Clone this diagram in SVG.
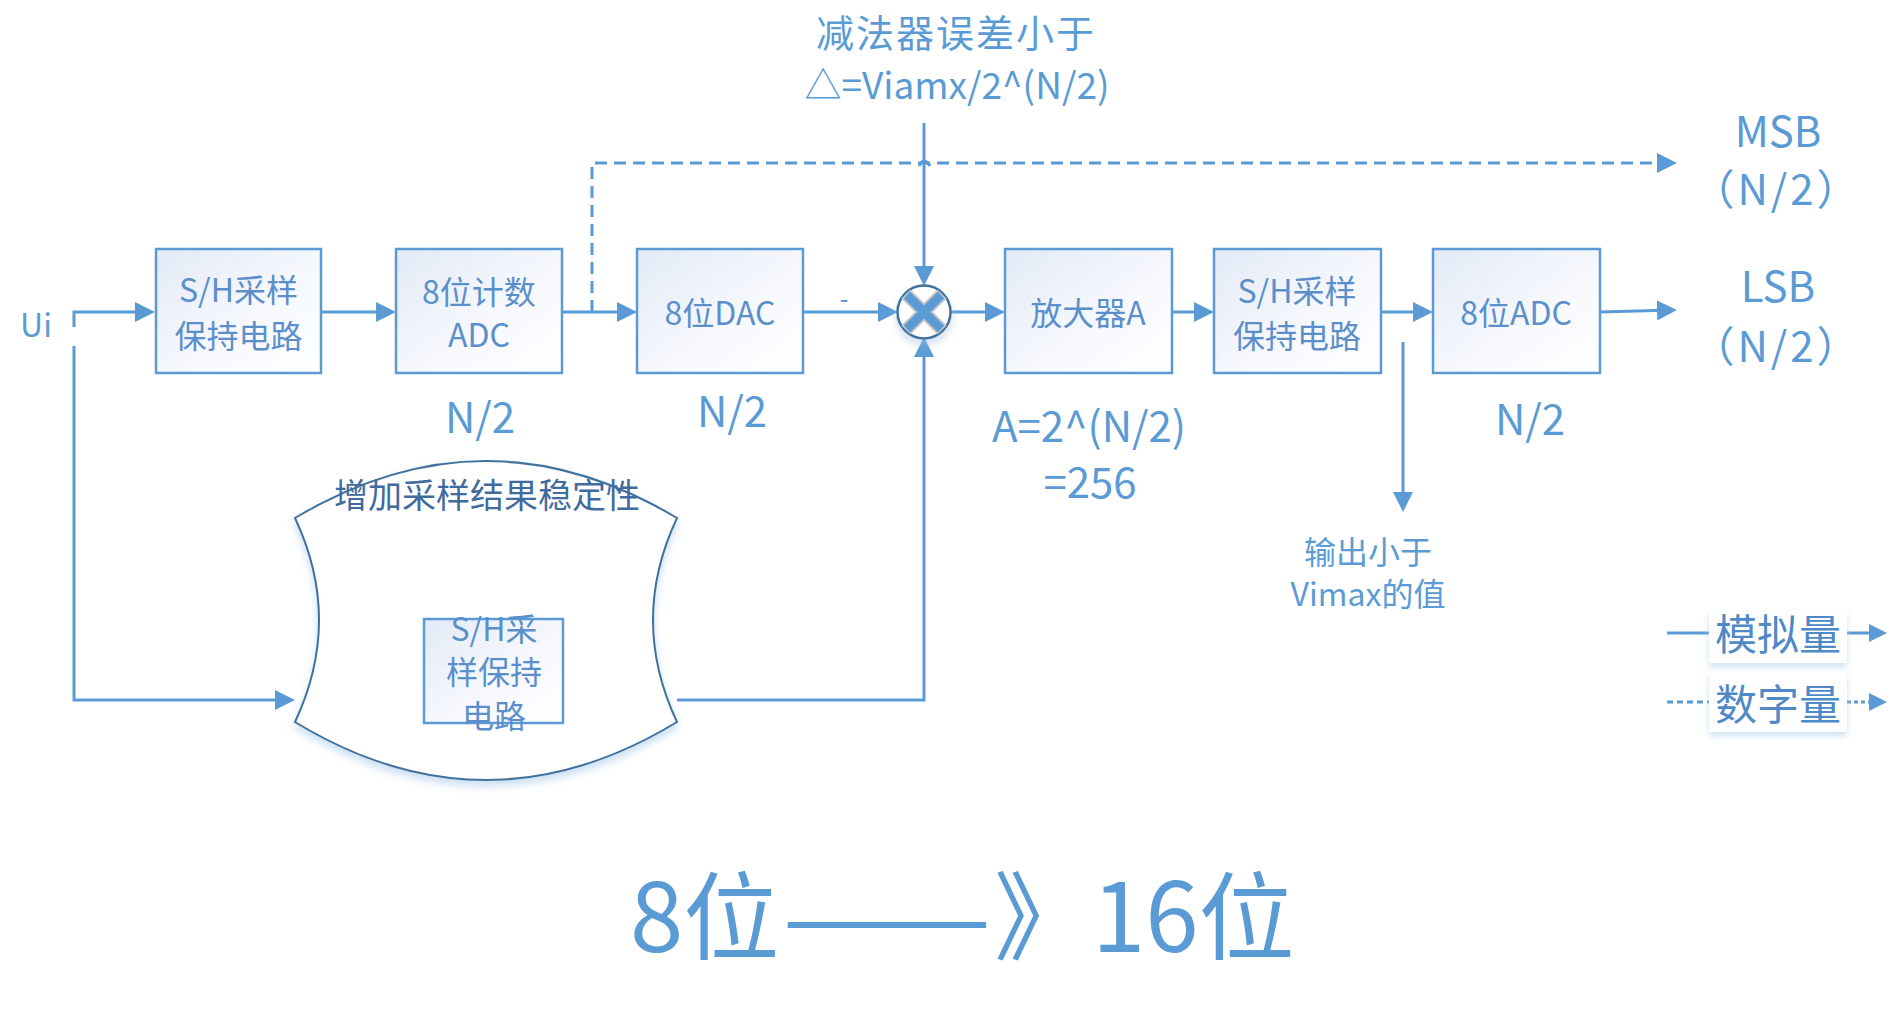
<svg xmlns="http://www.w3.org/2000/svg" width="1898" height="1032" viewBox="0 0 1898 1032">
<style>
text{font-family:"Noto Sans CJK SC","Noto Sans",sans-serif;}
.box{fill:url(#bg);stroke:#5b9bd5;stroke-width:2.5;}
.bt{font-size:32px;fill:#5a8fcb;text-anchor:middle;}
.lb{fill:#5b9bd5;text-anchor:middle;}
.ln{fill:none;stroke:#5b9bd5;stroke-width:3;}
.ar{marker-end:url(#ah);}
.dash{stroke-dasharray:12 7;}
.leg{font-size:42px;fill:#5089c8;text-anchor:middle;}
</style>
<defs>
<linearGradient id="bg" x1="0" y1="0" x2="1" y2="1">
<stop offset="0" stop-color="#e3eaf6"/>
<stop offset="0.6" stop-color="#f7f9fd"/>
<stop offset="1" stop-color="#ffffff"/>
</linearGradient>
<marker id="ah" markerUnits="userSpaceOnUse" markerWidth="20" markerHeight="20" refX="16" refY="10" orient="auto">
<path d="M0,0 L20,10 L0,20 z" fill="#5b9bd5"/>
</marker>
<marker id="ahs" markerUnits="userSpaceOnUse" markerWidth="18" markerHeight="18" refX="14" refY="9" orient="auto">
<path d="M0,0 L18,9 L0,18 z" fill="#5b9bd5"/>
</marker>
<filter id="sh" x="-20%" y="-20%" width="140%" height="150%">
<feDropShadow dx="0" dy="5" stdDeviation="4" flood-color="#9dc3e6" flood-opacity="0.55"/>
</filter>
<filter id="sh2" x="-20%" y="-20%" width="140%" height="160%">
<feDropShadow dx="0" dy="4" stdDeviation="3" flood-color="#bdd7ee" flood-opacity="0.7"/>
</filter>
</defs>
<rect width="1898" height="1032" fill="#ffffff"/>

<g id="connectors">
<path class="ln ar" d="M74,327 V312 H151"/>
<path class="ln" d="M74,346 V700 H275"/>
<path class="ln ar" d="M275,700 H291"/>
<path class="ln ar" d="M321,312 H392"/>
<path class="ln ar" d="M562,312 H633"/>
<path class="ln ar" d="M803,312 H894"/>
<path class="ln ar" d="M950,312 H1001"/>
<path class="ln ar" d="M1172,312 H1210"/>
<path class="ln ar" d="M1381,312 H1429"/>
<path class="ln ar" d="M1600,312 L1673,310"/>
<path class="ln ar" d="M924,123 V282"/>
<path class="ln ar" d="M677,700 H924 V341"/>
<path class="ln ar" d="M1403,342 V508"/>
<path class="ln dash ar" d="M592,312 V163 H1673"/>
<path class="ln" d="M919,166 Q924,156 930,166" stroke-width="2"/>
</g>

<g id="node-sh1">
<rect class="box" x="156" y="249" width="165" height="124"/>
<text class="bt" x="238.5" y="302">S/H采样</text>
<text class="bt" x="238.5" y="348">保持电路</text>
</g>
<g id="node-adc-count">
<rect class="box" x="396" y="249" width="166" height="124"/>
<text class="bt" x="479" y="304">8位计数</text>
<text class="bt" x="479" y="347">ADC</text>
</g>
<g id="node-dac">
<rect class="box" x="637" y="249" width="166" height="124"/>
<text class="bt" x="720" y="325">8位DAC</text>
</g>
<g id="node-sub">
<circle cx="924" cy="312" r="26.5" fill="#ffffff" stroke="#41719c" stroke-width="2.5" filter="url(#sh)"/>
<path d="M906,294 L942,330 M942,294 L906,330" stroke="#c4c4c4" stroke-width="13" stroke-linecap="butt"/>
<path d="M907,295 L941,329 M941,295 L907,329" stroke="#5b9bd5" stroke-width="9" stroke-linecap="butt"/>
</g>
<g id="node-amp">
<rect class="box" x="1005" y="249" width="167" height="124"/>
<text class="bt" x="1088" y="325">放大器A</text>
</g>
<g id="node-sh2">
<rect class="box" x="1214" y="249" width="167" height="124"/>
<text class="bt" x="1297" y="303">S/H采样</text>
<text class="bt" x="1297" y="348">保持电路</text>
</g>
<g id="node-adc8">
<rect class="box" x="1433" y="249" width="167" height="124"/>
<text class="bt" x="1516" y="325">8位ADC</text>
</g>

<g id="node-stability">
<path d="M295,518 Q486,404 677,518 Q629,620 677,722 Q486,838 295,722 Q343,620 295,518 Z" fill="#ffffff" stroke="#41719c" stroke-width="2" filter="url(#sh)"/>
<rect class="box" x="424" y="619" width="139" height="104" stroke-width="2"/>
<text class="bt" x="494" y="641">S/H采</text>
<text class="bt" x="494" y="684">样保持</text>
<text class="bt" x="494" y="728">电路</text>
<text x="487" y="508" font-size="34" fill="#3f6b9e" text-anchor="middle">增加采样结果稳定性</text>
</g>

<g id="labels">
<text class="lb" x="36" y="337" font-size="32">Ui</text>
<text class="lb" x="956" y="47" font-size="38" letter-spacing="2">减法器误差小于</text>
<text class="lb" x="957" y="99" font-size="37">△=Viamx/2^(N/2)</text>
<text class="lb" x="844" y="308" font-size="26">-</text>
<text class="lb" x="480" y="433" font-size="42">N/2</text>
<text class="lb" x="732" y="427" font-size="42">N/2</text>
<text class="lb" x="1089" y="442" font-size="42">A=2^(N/2)</text>
<text class="lb" x="1090" y="498" font-size="42">=256</text>
<text class="lb" x="1530" y="435" font-size="42">N/2</text>
<text class="lb" x="1778" y="147" font-size="42">MSB</text>
<text class="lb" x="1777" y="205" font-size="42" letter-spacing="3">（N/2）</text>
<text class="lb" x="1778" y="302" font-size="42">LSB</text>
<text class="lb" x="1777" y="362" font-size="42" letter-spacing="3">（N/2）</text>
<text class="lb" x="1368" y="564" font-size="32">输出小于</text>
<text class="lb" x="1368" y="606" font-size="32">Vimax的值</text>
</g>

<g id="legend">
<path class="ln" d="M1667,633 H1709"/>
<path class="ln" d="M1847,633 H1883" marker-end="url(#ahs)"/>
<rect x="1709" y="610" width="138" height="53" fill="#ffffff" filter="url(#sh2)"/>
<text class="leg" x="1778" y="650">模拟量</text>
<path class="ln" d="M1667,702 H1709" stroke-dasharray="6 4"/>
<path class="ln" d="M1847,702 H1883" stroke-dasharray="4 3" marker-end="url(#ahs)"/>
<rect x="1709" y="672" width="138" height="60" fill="#ffffff" filter="url(#sh2)"/>
<text class="leg" x="1778" y="720">数字量</text>
</g>

<g id="title">
<text font-size="96" fill="#5b9bd5"><tspan x="630" y="952">8位</tspan><tspan x="782" y="952" textLength="210" lengthAdjust="spacingAndGlyphs">——</tspan><tspan x="994" y="952">》</tspan><tspan x="1092" y="952">16位</tspan></text>
</g>
</svg>
